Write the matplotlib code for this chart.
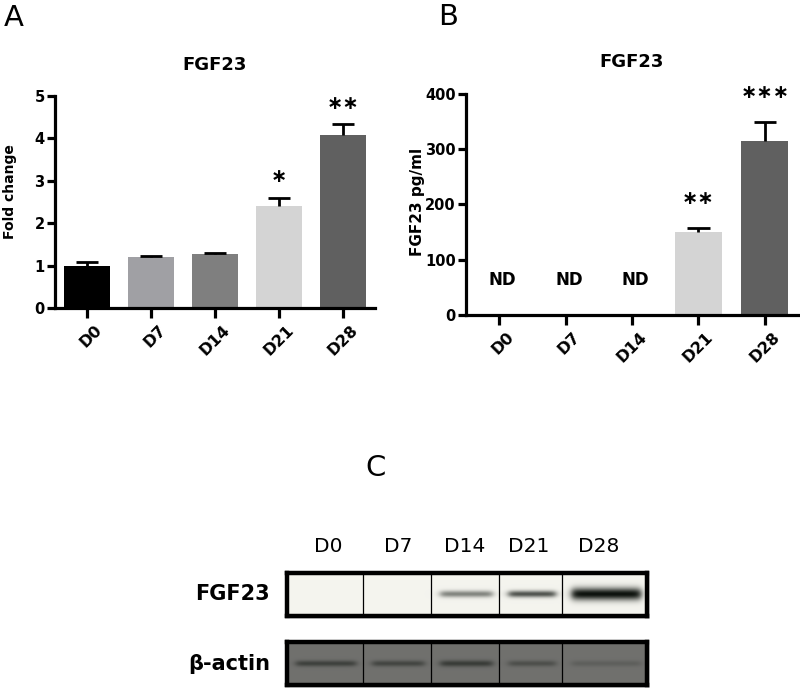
import numpy as np
import matplotlib.pyplot as plt
from matplotlib.transforms import ScaledTranslation

# ---- data ----
days = ['D0', 'D7', 'D14', 'D21', 'D28']
bar_colors = ['#000000', '#a0a0a4', '#7f7f7f', '#d4d4d4', '#606060']

fold_change = [1.0, 1.2, 1.27, 2.4, 4.08]
fold_err = [0.08, 0.02, 0.02, 0.2, 0.25]
fold_sig = ['', '', '', '∗', '∗∗']

pgml = [0, 0, 0, 150, 315]
pgml_err = [0, 0, 0, 8, 35]
pgml_detected = [False, False, False, True, True]
pgml_sig = ['', '', '', '∗∗', '∗∗∗']

# relative band darkness on the western blot
fgf23_band = [0.0, 0.0, 0.5, 0.72, 1.0]
fgf23_band_width = [3, 3, 3.2, 3.2, 6.0]
actin_band = [0.5, 0.45, 0.55, 0.35, 0.18]
actin_band_width = [3, 3, 3.2, 3, 3]

W, H = 800, 697
fig = plt.figure(figsize=(W / 100, H / 100), dpi=100)
plt.rcParams['font.family'] = ['DejaVu Sans']


def box(l, t, r, b):
    return [l / W, 1 - b / H, (r - l) / W, (b - t) / H]


def style_axes(ax):
    for s in ['top', 'right']:
        ax.spines[s].set_visible(False)
    for s in ['left', 'bottom']:
        ax.spines[s].set_linewidth(2.3)
    ax.tick_params(axis='y', width=2.3, length=6, labelsize=10.5, pad=1.5)
    ax.tick_params(axis='x', width=2.3, length=7, labelsize=11.5, pad=2)
    for lab in ax.get_yticklabels():
        lab.set_fontweight('bold')
    ax.set_xticks(range(len(days)))
    ax.set_xticklabels(days, rotation=45, ha='right', va='top',
                       rotation_mode='anchor', fontweight='bold')
    off = ScaledTranslation(7 / 100, -2 / 100, fig.dpi_scale_trans)
    for lab in ax.get_xticklabels():
        lab.set_transform(lab.get_transform() + off)
    ax.set_xlim(-0.5, 4.5)


def up_errors(ax, xs, vals, errs, cap):
    # one-sided (upper) error bars with a cap, as in the original
    ax.vlines(xs, vals, np.add(vals, errs), color='black', lw=2, zorder=3)
    ax.hlines(np.add(vals, errs), np.subtract(xs, cap), np.add(xs, cap),
              color='black', lw=2, zorder=3)


x = np.arange(len(days))

# ---- panel A ----
axA = fig.add_axes(box(55, 96, 375, 308))
axA.bar(x, fold_change, width=0.72, color=bar_colors)
up_errors(axA, x, fold_change, fold_err, 0.17)
axA.set_ylim(0, 5)
axA.set_yticks(range(6))
style_axes(axA)
axA.set_ylabel('Fold change', fontsize=10, fontweight='bold')
axA.yaxis.set_label_coords(-38 / 320, 0.55)
for xi, v, e, s in zip(x, fold_change, fold_err, fold_sig):
    if s:
        axA.text(xi, v + e + 0.5, s, ha='center', va='center', fontsize=14,
                 fontweight='bold')
axA.text(0.5, 1.146, 'FGF23', transform=axA.transAxes, ha='center',
         va='center', fontsize=13, fontweight='bold')

# ---- panel B ----
axB = fig.add_axes(box(466, 94, 798, 315))
hv = [v if d else 0 for v, d in zip(pgml, pgml_detected)]
axB.bar(x, hv, width=0.71, color=bar_colors)
det = [i for i, d in enumerate(pgml_detected) if d]
up_errors(axB, x[det], np.array(pgml)[det], np.array(pgml_err)[det], 0.17)
axB.set_ylim(0, 400)
axB.set_yticks([0, 100, 200, 300, 400])
style_axes(axB)
axB.set_ylabel('FGF23 pg/ml', fontsize=11, fontweight='bold')
axB.yaxis.set_label_coords(-41 / 332, 0.51)
for xi, v, e, d, s in zip(x, pgml, pgml_err, pgml_detected, pgml_sig):
    if not d:
        axB.text(xi + 0.05, 63, 'ND', ha='center', va='center', fontsize=12,
                 fontweight='bold')
    elif s:
        axB.text(xi, v + e + 52, s, ha='center', va='center', fontsize=14,
                 fontweight='bold')
axB.text(0.5, 1.145, 'FGF23', transform=axB.transAxes, ha='center',
         va='center', fontsize=13, fontweight='bold')

# panel letters
fig.text(4 / W, 1 - 18 / H, 'A', fontsize=21, va='center', ha='left')
fig.text(438 / W, 1 - 17 / H, 'B', fontsize=21, va='center', ha='left')
fig.text(376 / W, 1 - 468 / H, 'C', fontsize=21, va='center', ha='center')

# ---- panel C: western blot ----
lane_edges = [0, 76, 144, 212, 275, 360]
blot_w, blot_h = 360, 43


def blot_image(bands, widths, bg, dark):
    xx = np.arange(blot_w)[None, :] + 0.5
    yy = np.arange(blot_h)[:, None] + 0.5
    d = np.zeros((blot_h, blot_w))
    for i, (b, sw) in enumerate(zip(bands, widths)):
        x0, x1 = lane_edges[i], lane_edges[i + 1]
        win = 0.5 * (np.tanh((xx - x0 - 9) / 4) - np.tanh((xx - x1 + 7) / 4))
        d += b * np.exp(-((yy - 21.5) / sw) ** 2) * win
    d = np.clip(d, 0, 1)[..., None]
    return np.array(bg)[None, None, :] * (1 - d) + np.array(dark)[None, None, :] * d


rows = [
    (573, 616, 'FGF23', fgf23_band, fgf23_band_width, (0.957, 0.957, 0.935)),
    (642, 685, 'β-actin', actin_band, actin_band_width, (0.44, 0.44, 0.43)),
]
for top, bot, name, bands, widths, bg in rows:
    # soft shadow
    sh = fig.add_axes(box(289, top + 2, 650, bot + 3))
    sh.set_facecolor('#d8d8d8')
    sh.set_xticks([])
    sh.set_yticks([])
    for s in sh.spines.values():
        s.set_visible(False)
    ax = fig.add_axes(box(287, top, 647, bot))
    img = blot_image(bands, widths, bg, (0.05, 0.07, 0.05))
    ax.imshow(img, extent=[0, blot_w, blot_h, 0], aspect='auto',
              interpolation='bilinear')
    for e in lane_edges[1:-1]:
        ax.axvline(e, color='black', lw=0.9)
    ax.set_xlim(0, blot_w)
    ax.set_ylim(blot_h, 0)
    ax.set_xticks([])
    ax.set_yticks([])
    for s in ax.spines.values():
        s.set_linewidth(3.2)
    fig.text(270 / W, 1 - (top + bot) / 2 / H, name, ha='right', va='center',
             fontsize=15, fontweight='bold')

lane_label_x = [328, 398, 465, 529, 599]
for lx, d in zip(lane_label_x, days):
    fig.text(lx / W, 1 - 547 / H, d, ha='center', va='center', fontsize=14.5)

fig.savefig('out.png', dpi=100)
